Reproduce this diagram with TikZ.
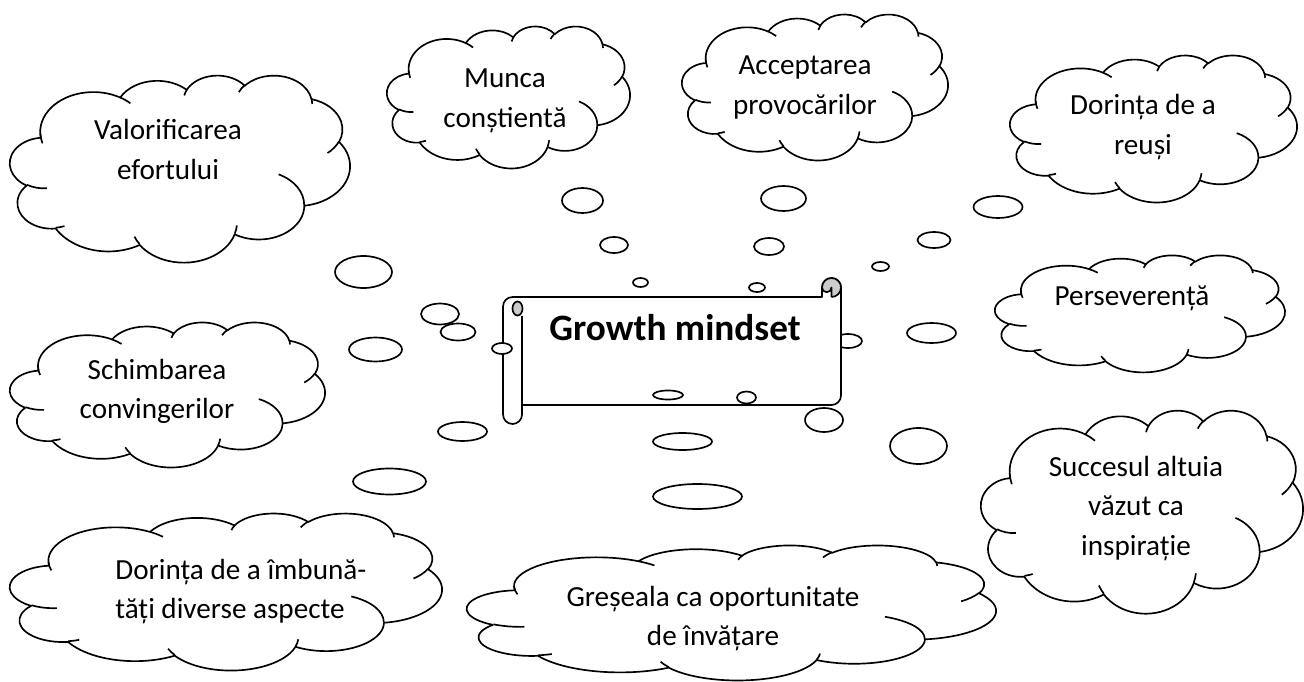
\documentclass[tikz,border=0pt]{standalone}
\usepackage{fontspec}
\setmainfont{Carlito}
\def\cldu{0.569055pt}
% arc of an OOXML-style arcTo (visual angles converted to parametric ones)
\newcommand\carc[4]{arc[x radius={(#1)*\cldu}, y radius={(#2)*\cldu}, start angle={atan2((#1)*sin(#3),(#2)*cos(#3))}, delta angle={mod(atan2((#1)*sin((#3)+(#4)),(#2)*cos((#3)+(#4)))-atan2((#1)*sin(#3),(#2)*cos(#3))-(#4)+1260,360)-180+(#4)}]}
\newcommand\cloudshape[4]{%
\begin{scope}[shift={(#1,#2)},xscale={#3/43.2},yscale={#4/43.2}]
\draw[cloudline,fill=white] (3.9,14.37)
 \carc{6.753}{9.190}{-190.4875}{123.7805}
 \carc{5.333}{7.267}{-144.1024}{89.9452}
 \carc{4.365}{5.945}{-145.8079}{99.7230}
 \carc{4.857}{6.595}{-130.9861}{117.2417}
 \carc{5.333}{7.273}{-78.7089}{109.0269}
 \carc{6.775}{9.220}{-46.2673}{130.2690}
 \carc{5.785}{7.867}{0.6250}{114.0333}
 \carc{6.752}{9.215}{22.4516}{115.1726}
 \carc{7.720}{10.543}{66.2426}{75.7110}
 \carc{4.360}{5.918}{-274.9421}{146.7356}
 \carc{4.345}{5.945}{-246.8285}{152.5189}
 -- cycle;
\draw[cloudline]
 (4.693,26.177) \carc{4.345}{5.945}{86.7420}{26.4295}
 (6.928,34.899) \carc{4.360}{5.918}{73.6105}{11.4475}
 (16.478,39.090) \carc{6.752}{9.215}{137.6242}{14.0811}
 (28.827,34.751) \carc{6.752}{9.215}{6.4533}{15.9984}
 (34.129,22.954) \carc{5.785}{7.867}{-70.2924}{70.9174}
 (41.798,15.354) \carc{5.333}{7.273}{30.3180}{27.7515}
 (38.324,5.426) \carc{4.857}{6.595}{-13.7443}{14.8589}
 (29.078,3.952) \carc{4.857}{6.595}{-149.1815}{18.1954}
 (22.141,4.720) \carc{4.365}{5.945}{-163.4943}{17.6864}
 (14.000,5.192) \carc{6.753}{9.190}{-66.7070}{12.3194}
 (4.127,15.789) \carc{6.753}{9.190}{158.3148}{18.5015};
\end{scope}}
\newcommand\bub[4]{\draw[bubble] (#1,#2) ellipse[x radius={#3*\cldu}, y radius={#4*\cldu}];}
\begin{document}
\begin{tikzpicture}[x=0.02cm,y=0.02cm,yscale=-1,
  cloudline/.style={line width=0.95pt,line join=round},
  bubble/.style={line width=0.95pt,fill=white},
  scrollline/.style={line width=0.95pt,line join=round},
  scrollgray/.style={fill=gray!40},
  lbl/.style={font=\fontsize{16.6pt}{22.76pt}\selectfont,inner sep=0pt},
  ttl/.style={font=\fontsize{21.2pt}{25pt}\selectfont\bfseries,inner sep=0pt}]
\useasboundingbox (0,0) rectangle (1304,682);
\fill[white] (0,0) rectangle (1304,682);

% clouds
\cloudshape{10}{75}{340}{187}
\cloudshape{387}{26}{243}{142}
\cloudshape{682}{14}{266}{146}
\cloudshape{1010}{55}{287}{147}
\cloudshape{995}{255}{290}{117}
\cloudshape{10}{322}{315}{145}
\cloudshape{981}{410}{322}{203}
\cloudshape{10}{513}{432}{157}
\cloudshape{467}{545}{529}{135}

% bubble behind the scroll
\bub{848}{341}{14}{7}

% scroll
\draw[scrollline,fill=white] (503,306.5) arc[start angle=180,delta angle=90,radius=9.5*\cldu]
  -- (822,297) -- (822,287.5) arc[start angle=180,delta angle=180,radius=9.5*\cldu]
  -- (841,395.5) arc[start angle=0,delta angle=90,radius=9.5*\cldu]
  -- (522,405) -- (522,414.5) arc[start angle=0,delta angle=180,radius=9.5*\cldu] -- cycle;
\fill[scrollgray] (831.5,287.5) circle[radius=9.5*\cldu];
\fill[white] (822,297) -- (822,287.5) arc[start angle=180,delta angle=-180,radius=4.75*\cldu] -- (831.5,297) -- cycle;
\draw[scrollline] (822,287.5) arc[start angle=180,delta angle=180,radius=9.5*\cldu];
\draw[scrollline] (831.5,297) arc[start angle=90,delta angle=-90,radius=9.5*\cldu];
\draw[scrollline] (822,297) -- (822,287.5) arc[start angle=180,delta angle=-180,radius=4.75*\cldu] -- (831.5,297);
\draw[scrollline,scrollgray] (517.5,308.5) ellipse[x radius=5*\cldu,y radius=7*\cldu];
\draw[scrollline] (522,315.5) -- (522,405);

% bubbles
\bub{582.5}{200.5}{20.5}{12.5}
\bub{783.5}{198.5}{22.5}{12.5}
\bub{998}{207}{24.5}{11}
\bub{614}{245}{14}{8}
\bub{769}{246.5}{15}{8.5}
\bub{934}{240}{16.5}{8}
\bub{640.5}{282.5}{7.5}{4.5}
\bub{757}{287.5}{8}{4.5}
\bub{880.5}{266.5}{8.5}{4.5}
\bub{363.5}{272}{28.5}{16}
\bub{440}{314}{19}{10.5}
\bub{458}{332}{17.5}{8.5}
\bub{375.5}{349.5}{26.5}{12}
\bub{502}{348.5}{10}{5.5}
\bub{931.5}{333}{24.5}{10}
\bub{668}{395}{15}{4.5}
\bub{746.5}{397.5}{9.5}{6}
\bub{824}{420}{19}{12}
\bub{462.5}{431.5}{24.5}{9.5}
\bub{682.5}{441.5}{29.5}{8.5}
\bub{918.5}{446}{28.5}{18}
\bub{389.5}{481.5}{36.5}{13}
\bub{697.5}{496.5}{44.5}{12.5}

% texts
\node[ttl,anchor=base] (title) at (675,340) {Growth mindset};
\node[lbl,anchor=base] (t1) at (168,140) {\begin{tabular}[t]{@{}c@{}}Valorificarea\\efortului\end{tabular}};
\node[lbl,anchor=base] (t2) at (505,88) {\begin{tabular}[t]{@{}c@{}}Munca\\conștientă\end{tabular}};
\node[lbl,anchor=base] (t3) at (805,75) {\begin{tabular}[t]{@{}c@{}}Acceptarea\\provocărilor\end{tabular}};
\node[lbl,anchor=base] (t4) at (1143,115) {\begin{tabular}[t]{@{}c@{}}Dorința de a\\reuși\end{tabular}};
\node[lbl,anchor=base] (t5) at (1132,305) {Perseverență};
\node[lbl,anchor=base] (t6) at (157,379) {\begin{tabular}[t]{@{}c@{}}Schimbarea\\convingerilor\end{tabular}};
\node[lbl,anchor=base] (t7) at (1136,476) {\begin{tabular}[t]{@{}c@{}}Succesul altuia\\văzut ca\\inspirație\end{tabular}};
\node[lbl,anchor=base west] (t8) at (115,579) {\begin{tabular}[t]{@{}l@{}}Dorința de a îmbună-\\tăți diverse aspecte\end{tabular}};
\node[lbl,anchor=base] (t9) at (713,606) {\begin{tabular}[t]{@{}c@{}}Greșeala ca oportunitate\\de învățare\end{tabular}};
\end{tikzpicture}
\end{document}
